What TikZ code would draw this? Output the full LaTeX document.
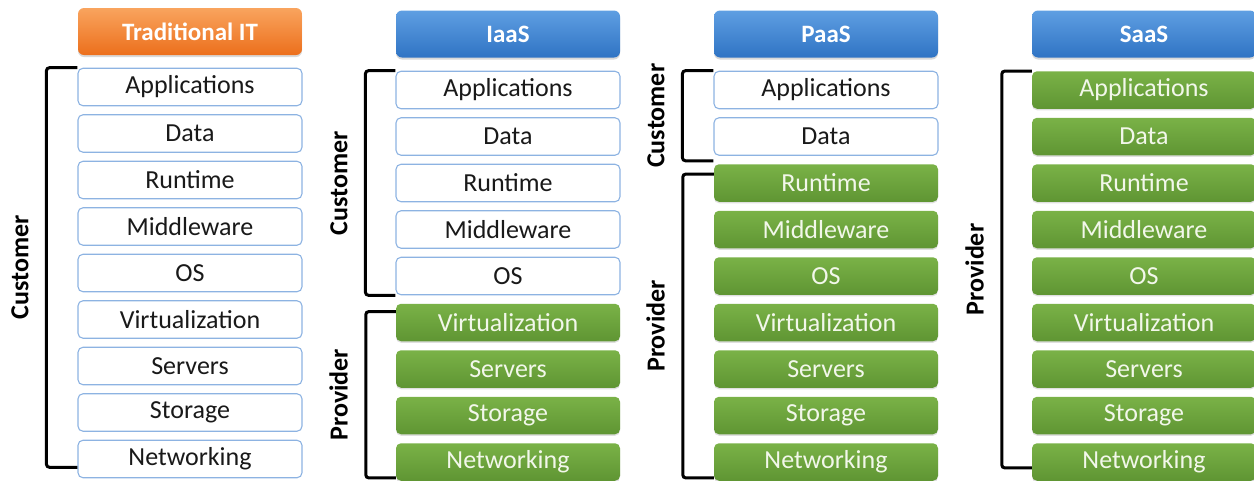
\documentclass[tikz,border=0pt]{standalone}
\usepackage{fontspec}
\setmainfont{Carlito}
\usetikzlibrary{shadows}

\definecolor{orangetop}{HTML}{F9A45E}
\definecolor{orangebot}{HTML}{EC6F1C}
\definecolor{bluetop}{HTML}{5E9EE2}
\definecolor{bluebot}{HTML}{3074C4}
\definecolor{greentop}{HTML}{7AB247}
\definecolor{greenbot}{HTML}{5F9533}
\definecolor{edgeblue}{HTML}{8DB3E2}
\definecolor{greentext}{HTML}{F2F7EA}

\begin{document}
\begin{tikzpicture}[x=1pt,y=-1pt,
    layer/.style={rounded corners=5pt, minimum width=224pt, minimum height=37.5pt,
      inner sep=0pt, font=\fontsize{26}{30}\selectfont},
    cust/.style={layer, draw=edgeblue, line width=1.1pt, fill=white, text=black!90},
    prov/.style={layer, top color=greentop, bottom color=greenbot, text=greentext,
      drop shadow={opacity=.25, shadow xshift=0pt, shadow yshift=-1.5pt}},
    head/.style={rounded corners=6pt, minimum width=224pt, minimum height=47pt,
      inner sep=0pt, text=white, font=\fontsize{25}{28}\selectfont\bfseries,
      drop shadow={opacity=.3, shadow xshift=0pt, shadow yshift=-2pt}},
    bracket/.style={line width=3pt, rounded corners=3pt},
    lbl/.style={rotate=90, anchor=south, inner sep=0pt, outer sep=18pt,
      font=\fontsize{26}{30}\selectfont\bfseries}]

  \useasboundingbox (0,0) rectangle (1254,480);

  % headers
  \node[head, top color=orangetop, bottom color=orangebot] (trad) at (190,31.5) {Traditional IT};
  \node[head, top color=bluetop, bottom color=bluebot] (iaas) at (508,34) {IaaS};
  \node[head, top color=bluetop, bottom color=bluebot] (paas) at (826,34) {PaaS};
  \node[head, top color=bluetop, bottom color=bluebot] (saas) at (1144,34) {SaaS};

  % Traditional IT
  \begin{scope}[every node/.style={cust}]
    \node (t1) at (190,87)    {Applications};
    \node (t2) at (190,133.5) {Data};
    \node (t3) at (190,180)   {Runtime};
    \node (t4) at (190,226.5) {Middleware};
    \node (t5) at (190,273)   {OS};
    \node (t6) at (190,319.5) {Virtualization};
    \node (t7) at (190,366)   {Servers};
    \node (t8) at (190,412.5) {Storage};
    \node (t9) at (190,459)   {Networking};
  \end{scope}

  % IaaS
  \begin{scope}[every node/.style={cust}]
    \node (i1) at (508,90)    {Applications};
    \node (i2) at (508,136.5) {Data};
    \node (i3) at (508,183)   {Runtime};
    \node (i4) at (508,229.5) {Middleware};
    \node (i5) at (508,276)   {OS};
  \end{scope}
  \begin{scope}[every node/.style={prov}]
    \node (i6) at (508,322.5) {Virtualization};
    \node (i7) at (508,369)   {Servers};
    \node (i8) at (508,415.5) {Storage};
    \node (i9) at (508,462)   {Networking};
  \end{scope}

  % PaaS
  \begin{scope}[every node/.style={cust}]
    \node (p1) at (826,90)    {Applications};
    \node (p2) at (826,136.5) {Data};
  \end{scope}
  \begin{scope}[every node/.style={prov}]
    \node (p3) at (826,183)   {Runtime};
    \node (p4) at (826,229.5) {Middleware};
    \node (p5) at (826,276)   {OS};
    \node (p6) at (826,322.5) {Virtualization};
    \node (p7) at (826,369)   {Servers};
    \node (p8) at (826,415.5) {Storage};
    \node (p9) at (826,462)   {Networking};
  \end{scope}

  % SaaS
  \begin{scope}[every node/.style={prov}]
    \node (s1) at (1144,90)    {Applications};
    \node (s2) at (1144,136.5) {Data};
    \node (s3) at (1144,183)   {Runtime};
    \node (s4) at (1144,229.5) {Middleware};
    \node (s5) at (1144,276)   {OS};
    \node (s6) at (1144,322.5) {Virtualization};
    \node (s7) at (1144,369)   {Servers};
    \node (s8) at (1144,415.5) {Storage};
    \node (s9) at (1144,462)   {Networking};
  \end{scope}

  % brackets
  \draw[bracket] (t1.north west) -- ++(-31,0) |- ([yshift=11pt]t9.south west)
    node[pos=.25, lbl] {Customer};
  \draw[bracket] (i1.north west) -- ++(-30,0) |- (i5.south west)
    node[pos=.25, lbl] {Customer};
  \draw[bracket] ([yshift=-8pt]i6.north west) -- ++(-30,0) |- ([yshift=3pt]i9.south west)
    node[pos=.25, lbl] {Provider};
  \draw[bracket] (p1.north west) -- ++(-31,0) |- ([yshift=-5pt]p2.south west)
    node[pos=.25, lbl] {Customer};
  \draw[bracket] ([yshift=-10pt]p3.north west) -- ++(-31,0) |- ([yshift=3pt]p9.south west)
    node[pos=.25, lbl] {Provider};
  \draw[bracket] (s1.north west) -- ++(-30,0) |- ([yshift=13pt]s9.south west)
    node[pos=.25, lbl] {Provider};

\end{tikzpicture}
\end{document}
